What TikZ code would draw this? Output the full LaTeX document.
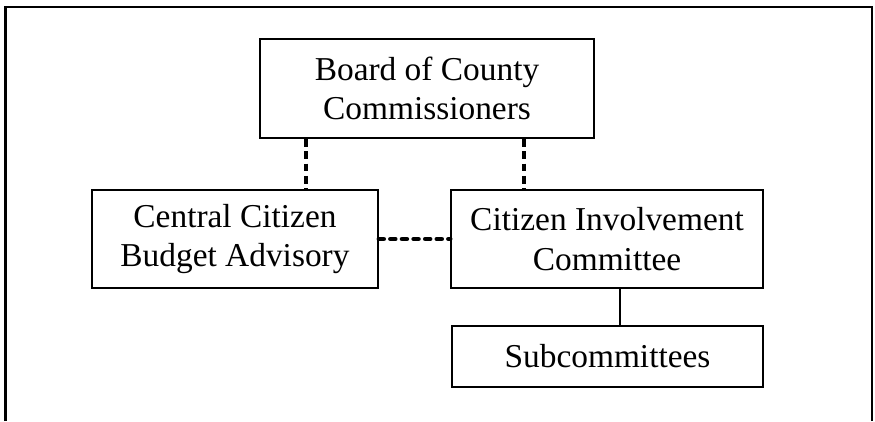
\documentclass[tikz,border=0pt]{standalone}
\usepackage{fontspec}
\setmainfont{Liberation Serif}
\usepackage{tikz}
\usetikzlibrary{positioning, calc}

\begin{document}
\begin{tikzpicture}[
    box/.style={draw, line width=1.1pt, align=center, inner sep=0pt, font=\fontsize{19}{22.5}\selectfont},
    dashline/.style={line width=2pt, dash pattern=on 4.5pt off 2.5pt},
    dotline/.style={line width=2.8pt, dash pattern=on 2.6pt off 4pt, line cap=round},
    plainline/.style={line width=0.8pt}
]
    \useasboundingbox (0,0) rectangle (17.5,-8.42);
    % open frame round the chart
    \draw[line width=1.5pt] (0.11,-8.42) -- (0.11,-0.14) -- (17.44,-0.14) -- (17.44,-8.42);

    \node[box, minimum width=6.68cm, minimum height=1.98cm] (board) at (8.54, -1.77) {Board of County\\Commissioners};
    \node[box, minimum width=5.72cm, minimum height=1.96cm] (central) at (4.70, -4.78) {Central Citizen\\Budget Advisory};
    \node[box, minimum width=6.24cm, minimum height=1.96cm] (cic) at (12.14, -4.78) {Citizen Involvement\\Committee};
    \node[box, minimum width=6.22cm, minimum height=1.22cm] (subcom) at (12.15, -7.13) {Subcommittees};

    \draw[dashline] ([xshift=0.94cm]board.south west) -- ([xshift=0.94cm]board.south west |- central.north);
    \draw[dashline] ([xshift=-1.42cm]board.south east) -- ([xshift=-1.42cm]board.south east |- cic.north);
    \draw[dotline] (central.east) -- (cic.west);
    \draw[plainline] ([xshift=0.26cm]cic.south) -- ([xshift=0.26cm]cic.south |- subcom.north);
\end{tikzpicture}
\end{document}
